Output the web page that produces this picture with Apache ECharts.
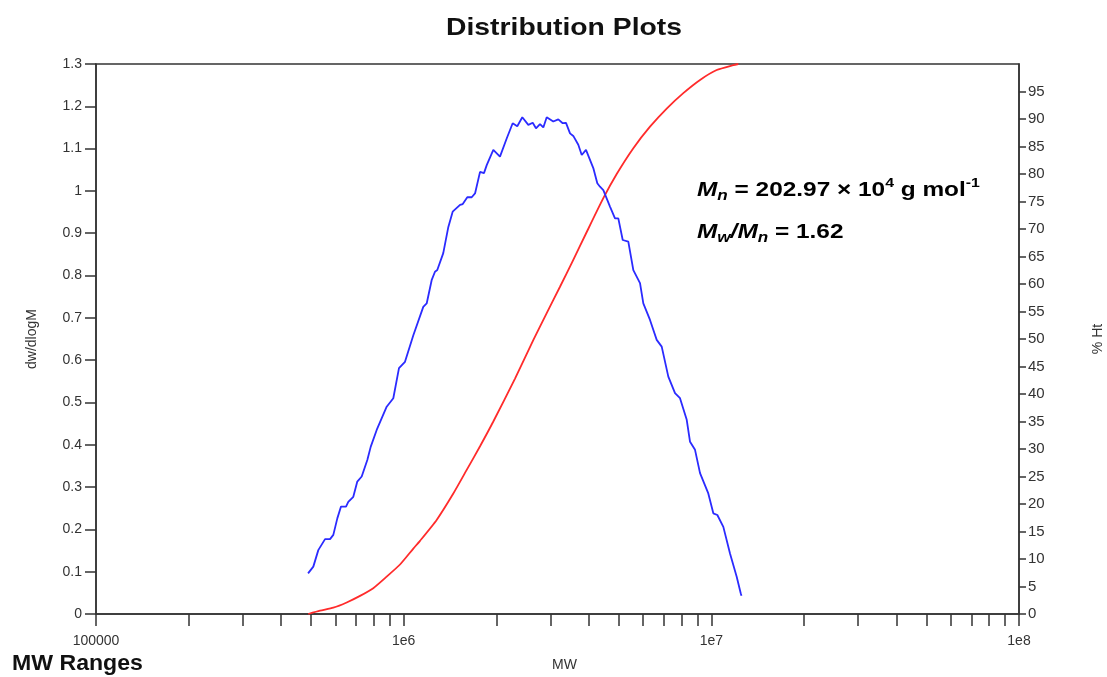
<!DOCTYPE html>
<html><head><meta charset="utf-8">
<script src="https://cdn.jsdelivr.net/npm/echarts@6/dist/echarts.min.js"></script>
<style>html,body{margin:0;padding:0;background:#fff}#c{width:1107px;height:677px}</style>
</head><body><div id="c"></div>
<script>
// dw/dlogM distribution (blue)
const mwBlue = [489000,508600,527900,555200,576300,590700,608600,625700,649600,660700,686000,706800,730500,761800,781300,817200,880700,925400,965600,1010000,1075000,1158000,1188000,1233000,1264000,1286000,1345000,1397000,1443000,1525000,1556000,1610000,1664000,1706000,1771000,1824000,1862000,1956000,2056000,2162000,2261000,2340000,2430000,2542000,2627000,2692000,2774000,2844000,2917000,3064000,3181000,3288000,3370000,3473000,3559000,3695000,3791000,3914000,4134000,4260000,4346000,4456000,4684000,4863000,4985000,5152000,5372000,5578000,5864000,6011000,6319000,6644000,6898000,7247000,7620000,7910000,8318000,8527000,8851000,9189000,9775000,10150000,10460000,10940000,11500000,12090000,12460000,12530000];
const dwdlogM = [0.096,0.112,0.151,0.177,0.177,0.187,0.226,0.254,0.254,0.265,0.277,0.313,0.325,0.364,0.395,0.435,0.490,0.510,0.581,0.596,0.659,0.726,0.734,0.789,0.809,0.813,0.853,0.915,0.951,0.967,0.969,0.985,0.985,0.994,1.045,1.042,1.061,1.097,1.081,1.124,1.160,1.153,1.174,1.156,1.161,1.148,1.158,1.150,1.174,1.164,1.169,1.160,1.161,1.136,1.130,1.109,1.085,1.097,1.054,1.018,1.010,1.002,0.963,0.935,0.935,0.884,0.880,0.813,0.782,0.734,0.695,0.648,0.632,0.561,0.522,0.510,0.459,0.407,0.388,0.333,0.285,0.238,0.234,0.206,0.143,0.088,0.049,0.043];
// cumulative % Ht (red)
const mwRed = [489800,534800,590700,652900,721300,796600,880700,973000,1075000,1130000,1280000,1450000,1603000,1771000,1956000,2301000,2638000,2917000,3222000,3559000,3900000,4456000,4925000,5578000,6319000,7160000,8108000,9189000,10410000,11790000,12240000];
const pctHt = [0,0.6,1.15,2.1,3.3,4.7,6.8,9.0,11.9,13.3,17.1,21.9,26.2,30.5,35.0,42.8,49.8,54.7,59.5,64.4,69.0,75.6,80.0,84.7,88.6,91.9,94.7,97.1,98.9,99.8,100];
// axis ticks / labels
const xTickValues = [1e5,2e5,3e5,4e5,5e5,6e5,7e5,8e5,9e5,1e6,2e6,3e6,4e6,5e6,6e6,7e6,8e6,9e6,1e7,2e7,3e7,4e7,5e7,6e7,7e7,8e7,9e7,1e8];
const xLabelValues = [1e5,1e6,1e7,1e8];
const xLabelTexts = ['100000','1e6','1e7','1e8'];
const rightTickValues = [0,5,10,15,20,25,30,35,40,45,50,55,60,65,70,75,80,85,90,95];
const titleText = 'Distribution Plots';

const chart = echarts.init(document.getElementById('c'), null, {renderer:'canvas'});
const FF = '"Liberation Sans", Arial, Helvetica, sans-serif';
const axisCol = '#333';
const lblCol = '#333';

chart.setOption({
  animation: false,
  backgroundColor: '#fff',
  textStyle: {fontFamily: FF},
  grid: {left: 96, right: 88, top: 64, bottom: 63, outerBoundsMode: 'none', containLabel: false,
    show: true, borderColor: axisCol, borderWidth: 1.5, backgroundColor: 'transparent'},
  xAxis: {
    type: 'log', logBase: 10, min: 1e5, max: 1e8,
    name: 'MW', nameLocation: 'middle', nameGap: 44,
    nameTextStyle: {fontSize: 14, color: lblCol, fontFamily: FF, padding: [0,0,0,14]},
    axisLine: {show: true, lineStyle: {color: axisCol, width: 1.5}},
    axisTick: {show: true, length: 12, inside: false, customValues: xTickValues, lineStyle: {color: axisCol, width: 1.5}},
    axisLabel: {show: true, margin: 20, fontSize: 14, color: lblCol, fontFamily: FF, customValues: xLabelValues,
      formatter: function (v) { const i = xLabelValues.findIndex(function (t) { return Math.abs(Math.log10(t) - Math.log10(v)) < 1e-6; }); return i >= 0 ? xLabelTexts[i] : ''; }},
    splitLine: {show: false}, minorTick: {show: false}
  },
  yAxis: [{
    type: 'value', min: 0, max: 1.3, interval: 0.1, position: 'left',
    name: 'dw/dlogM', nameLocation: 'middle', nameGap: 57, nameRotate: 90,
    nameTextStyle: {fontSize: 14, color: lblCol, fontFamily: FF},
    axisLine: {show: true, lineStyle: {color: axisCol, width: 1.5}},
    axisTick: {show: true, length: 11, lineStyle: {color: axisCol, width: 1.5}},
    axisLabel: {margin: 14, fontSize: 14, color: lblCol, fontFamily: FF},
    splitLine: {show: false}
  }, {
    type: 'value', min: 0, max: 100, interval: 5, position: 'right',
    name: '% Ht', nameLocation: 'middle', nameGap: 72, nameRotate: 90,
    nameTextStyle: {fontSize: 14, color: lblCol, fontFamily: FF},
    axisLine: {show: true, lineStyle: {color: axisCol, width: 1.5}},
    axisTick: {show: true, length: 7, customValues: rightTickValues, lineStyle: {color: axisCol, width: 1.5}},
    axisLabel: {margin: 9, fontSize: 15, color: lblCol, fontFamily: FF, customValues: rightTickValues},
    splitLine: {show: false}
  }],
  series: [{
    type: 'line', name: '% Ht', yAxisIndex: 1, showSymbol: false, symbol: 'none', smooth: 0.2,
    data: mwRed.map(function (m, i) { return [m, pctHt[i]]; }),
    lineStyle: {color: '#ff2b2b', width: 1.8}, z: 3
  }, {
    type: 'line', name: 'dw/dlogM', yAxisIndex: 0, showSymbol: false, symbol: 'none',
    data: mwBlue.map(function (m, i) { return [m, dwdlogM[i]]; }),
    lineStyle: {color: '#2b2bff', width: 1.8}, z: 4
  }],
  graphic: [{
    type: 'text', x: 564, y: 28, scaleX: 1.18,
    style: {text: titleText, x: 0, y: 0, fill: '#111', font: 'bold 24px ' + FF, textAlign: 'center', textVerticalAlign: 'middle'}
  }, {
    type: 'text', x: 12, y: 664, scaleX: 1.05,
    style: {text: 'MW Ranges', x: 0, y: 0, fill: '#111', font: 'bold 22px ' + FF, textAlign: 'left', textVerticalAlign: 'middle'}
  }, {
    type: 'text', x: 697, y: 190, scaleX: 1.22,
    style: {
      text: '{m|M}{sb|n}{t| = 202.97 × 10}{sp|4}{t| g mol}{sp|-1}',
      x: 0, y: 0, textAlign: 'left', textVerticalAlign: 'middle',
      rich: {
        m: {fontSize: 20, fontWeight: 'bold', fontStyle: 'italic', fontFamily: FF, fill: '#000', lineHeight: 26, verticalAlign: 'middle'},
        t: {fontSize: 20, fontWeight: 'bold', fontFamily: FF, fill: '#000', lineHeight: 26, verticalAlign: 'middle'},
        sb: {fontSize: 14, fontWeight: 'bold', fontStyle: 'italic', fontFamily: FF, fill: '#000', lineHeight: 26, verticalAlign: 'bottom'},
        sp: {fontSize: 13, fontWeight: 'bold', fontFamily: FF, fill: '#000', lineHeight: 26, verticalAlign: 'top'}
      }
    }
  }, {
    type: 'text', x: 697, y: 232, scaleX: 1.22,
    style: {
      text: '{m|M}{sb|w}{m|/M}{sb|n}{t| = 1.62}',
      x: 0, y: 0, textAlign: 'left', textVerticalAlign: 'middle',
      rich: {
        m: {fontSize: 20, fontWeight: 'bold', fontStyle: 'italic', fontFamily: FF, fill: '#000', lineHeight: 26, verticalAlign: 'middle'},
        t: {fontSize: 20, fontWeight: 'bold', fontFamily: FF, fill: '#000', lineHeight: 26, verticalAlign: 'middle'},
        sb: {fontSize: 14, fontWeight: 'bold', fontStyle: 'italic', fontFamily: FF, fill: '#000', lineHeight: 26, verticalAlign: 'bottom'}
      }
    }
  }]
});
</script>
</body></html>
